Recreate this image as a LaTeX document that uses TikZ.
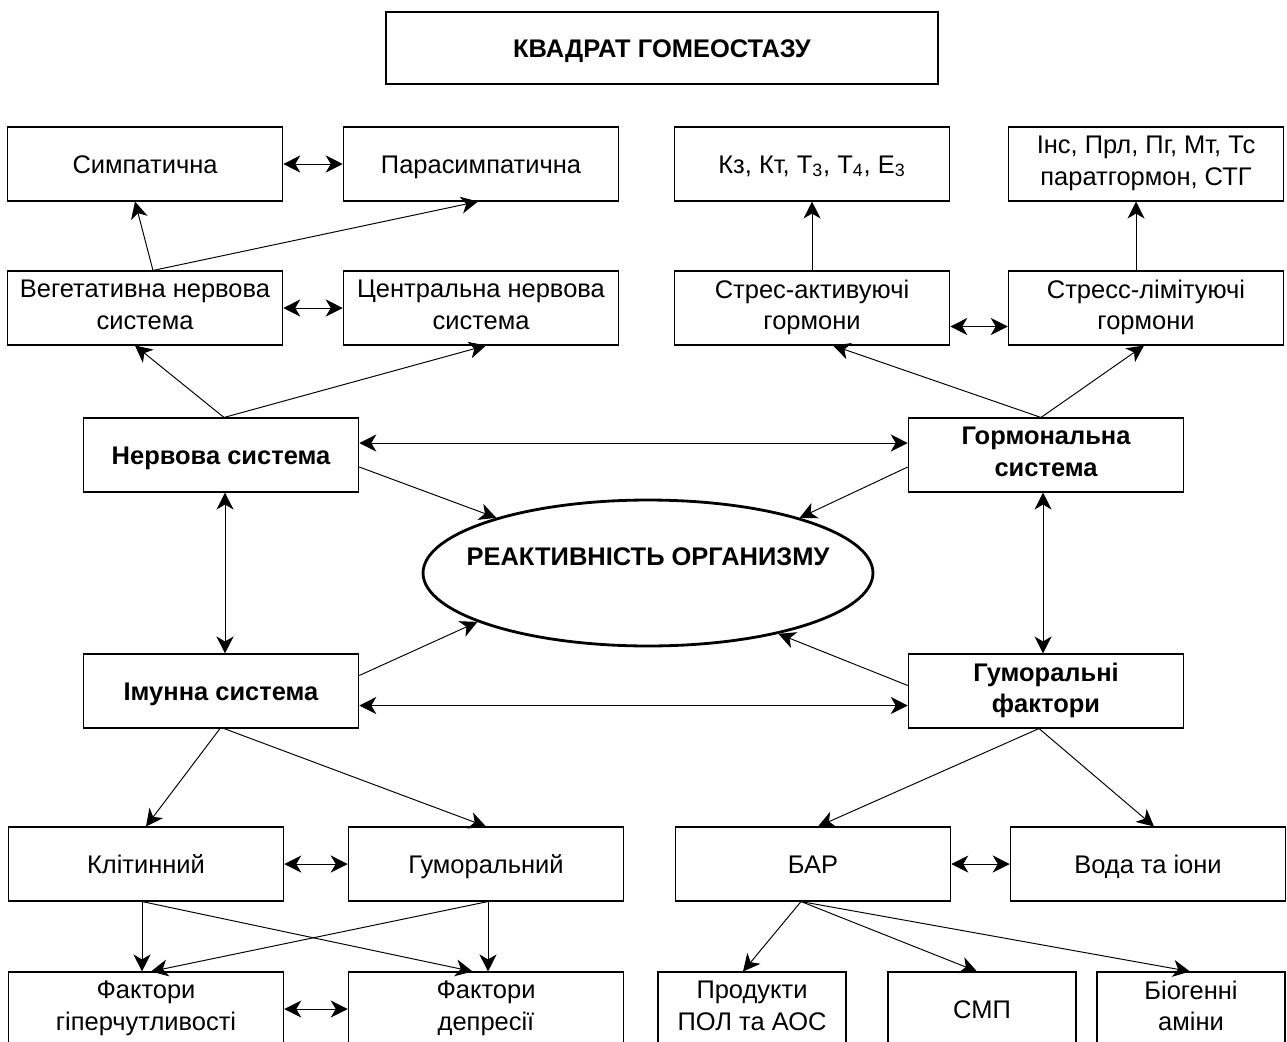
\documentclass[tikz,border=0pt]{standalone}
\usepackage{fontspec}
\setmainfont{Liberation Sans}
\usetikzlibrary{arrows.meta,shapes.geometric}
\newcommand\rozmir{\fontsize{14.5}{17.8}\selectfont}
\newcommand\opora{\rule[-3.8pt]{0pt}{18pt}}
\tikzset{
  blok/.style={draw,line width=0.9pt,minimum width=5.5cm,minimum height=1.47cm,align=center,inner sep=2pt,font=\rozmir,
    execute at begin node=\opora,execute at end node=\opora},
  zhyr/.style={blok,font=\rozmir\bfseries},
  malyj/.style={blok,minimum width=3.76cm},
  vist/.style={line width=0.55pt,-{Stealth[length=0.34cm,width=0.34cm,inset=0.1cm]}},
  dvi/.style={line width=0.55pt,{Stealth[length=0.34cm,width=0.34cm,inset=0.1cm]}-{Stealth[length=0.34cm,width=0.34cm,inset=0.1cm]}}
}
\begin{document}
\begin{tikzpicture}[x=0.02cm,y=-0.02cm]
\useasboundingbox (0,0) rectangle (1287,1041);
\node[zhyr,minimum width=11.04cm,minimum height=1.44cm] (kvadrat) at (662,48) {КВАДРАТ ГОМЕОСТАЗУ};
% nervova
\node[blok] (simp) at (145,164) {Симпатична};
\node[blok] (para) at (481,164) {Парасимпатична};
\node[blok] (veg) at (145,308) {Вегетативна нервова\\система};
\node[blok] (cent) at (481,308) {Центральна нервова\\система};
% hormony
\node[blok] (kz) at (812,164) {Кз, Кт, Т\textsubscript{3}, Т\textsubscript{4}, Е\textsubscript{3}};
\node[blok] (ins) at (1146,164) {Інс, Прл, Пг, Мт, Тс\\паратгормон, СТГ};
\node[blok] (stra) at (812,308) {Стрес-активуючі\\гормони};
\node[blok] (strl) at (1146,308) {Стресс-лімітуючі\\гормони};
% centr
\node[zhyr] (nerv) at (221,455) {Нервова система};
\node[zhyr] (horm) at (1046,455) {Гормональна\\система};
\node[draw,ellipse,line width=1.6pt,minimum width=9cm,minimum height=2.92cm,
  label={[font=\rozmir\bfseries,yshift=0.32cm]center:РЕАКТИВНІСТЬ ОРГАНИЗМУ}] (ell) at (648,573) {};
\node[zhyr] (imun) at (221,691) {Імунна система};
\node[zhyr] (humf) at (1046,691) {Гуморальні\\фактори};
% imunitet
\node[blok] (klit) at (146,864) {Клітинний};
\node[blok] (gumo) at (486,864) {Гуморальний};
\node[blok] (fhyp) at (146,1009) {Фактори\\гіперчутливості};
\node[blok] (fdep) at (486,1009) {Фактори\\депресії};
% humoralni
\node[blok] (bar) at (813,864) {БАР};
\node[blok] (voda) at (1148,864) {Вода та іони};
\node[malyj] (prod) at (752,1009) {Продукти\\ПОЛ та АОС};
\node[malyj] (smp) at (982,1009) {СМП};
\node[malyj] (biog) at (1191,1009) {Біогенні\\аміни};

\draw[vist] ([xshift=0.16cm]veg.north) -- ([xshift=-0.2cm]simp.south);
\draw[vist] ([xshift=0.16cm]veg.north) -- ([xshift=-0.06cm]para.south);
\draw[dvi] (simp.east) -- (para.west);
\draw[dvi] (veg.east) -- (cent.west);
\draw[vist] ([xshift=0.06cm]nerv.north) -- ([xshift=-0.2cm]veg.south);
\draw[vist] ([xshift=0.06cm]nerv.north) -- ([xshift=0.1cm]cent.south);
\draw[vist] (stra.north) -- (kz.south);
\draw[vist] ([xshift=-0.2cm]strl.north) -- ([xshift=-0.2cm]ins.south);
\draw[dvi] ([yshift=-0.37cm]stra.east) -- ([yshift=-0.37cm]strl.west);
\draw[vist] ([xshift=-0.1cm]horm.north) -- ([xshift=0.42cm]stra.south);
\draw[vist] ([xshift=-0.1cm]horm.north) -- ([xshift=-0.04cm]strl.south);

\draw[dvi] ([yshift=0.24cm]nerv.east) -- ([yshift=0.24cm]horm.west);
\draw[vist] ([yshift=-0.24cm]nerv.east) -- (ell.160);
\draw[vist] ([yshift=-0.24cm]horm.west) -- (ell.20);
\draw[dvi] ([xshift=0.08cm]nerv.south) -- ([xshift=0.08cm]imun.north);
\draw[dvi] ([xshift=-0.06cm]horm.south) -- ([xshift=-0.06cm]humf.north);
\draw[vist] ([yshift=0.31cm]imun.east) -- (ell.196);
\draw[vist] ([yshift=0.11cm]humf.west) -- (ell.-25);
\draw[dvi] ([yshift=-0.29cm]imun.east) -- ([yshift=-0.29cm]humf.west);

\draw[vist] ([xshift=-0.02cm]imun.south) -- (klit.north);
\draw[vist] ([xshift=0.06cm]imun.south) -- (gumo.north);
\draw[dvi] (klit.east) -- (gumo.west);
\draw[vist] ([xshift=-0.08cm]klit.south) -- ([xshift=-0.08cm]fhyp.north);
\draw[vist] ([xshift=-0.08cm]klit.south) -- ([xshift=-0.27cm]fdep.north);
\draw[vist] ([xshift=0.04cm]gumo.south) -- ([xshift=0.04cm]fdep.north);
\draw[vist] ([xshift=0.04cm]gumo.south) -- ([xshift=0.1cm]fhyp.north);
\draw[dvi] (fhyp.east) -- (fdep.west);

\draw[vist] ([xshift=-0.14cm]humf.south) -- ([xshift=0.1cm]bar.north);
\draw[vist] ([xshift=-0.14cm]humf.south) -- ([xshift=0.12cm]voda.north);
\draw[dvi] (bar.east) -- (voda.west);
\draw[vist] ([xshift=-0.24cm]bar.south) -- ([xshift=-0.18cm]prod.north);
\draw[vist] ([xshift=-0.24cm]bar.south) -- ([xshift=-0.1cm]smp.north);
\draw[vist] ([xshift=-0.24cm]bar.south) -- ([xshift=-0.02cm]biog.north);
\end{tikzpicture}
\end{document}
